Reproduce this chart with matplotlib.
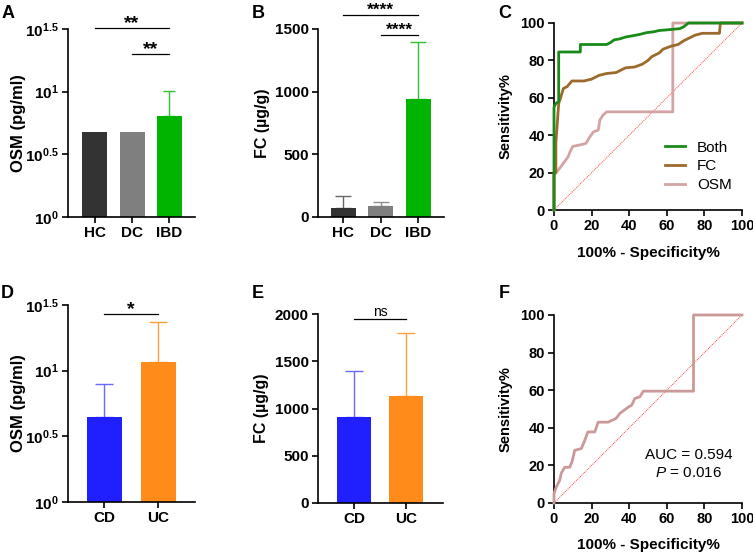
import numpy as np
import matplotlib
matplotlib.use("Agg")
import matplotlib.pyplot as plt

# ---- data ----
groups_abc = ["HC", "DC", "IBD"]
osm_means = [4.73, 4.73, 6.4]
osm_upper = [4.73, 4.73, 10.1]        # mean + SD (no bar drawn when equal)
fc_means = [70, 85, 940]
fc_upper = [170, 123, 1396]

groups_de = ["CD", "UC"]
osm_sub_means = [4.43, 11.7]
osm_sub_upper = [7.94, 23.3]
fc_sub_means = [915, 1135]
fc_sub_upper = [1395, 1800]

# ROC curves, panel C
both_x = [0, 0, 1, 2.5, 2.5, 14, 14, 28, 30, 32, 35, 38, 42, 46, 49, 53, 56, 62, 67, 69, 71.5, 100]
both_y = [0, 55, 57, 58, 84.5, 84.5, 88.5, 88.5, 89.5, 91, 91.5, 92.5, 93.2, 94, 94.8, 95.3, 96, 96.5, 97, 98, 100, 100]
fc_x = [0, 0, 1, 1, 2.5, 3.5, 5, 7, 9.5, 16, 20, 24, 28, 33, 35, 38, 43, 47, 50, 52, 56, 58, 62, 66, 69, 72, 75, 79, 88, 88.5, 100]
fc_y = [0, 20, 20, 36, 57, 60, 65, 66, 69, 69, 70, 72, 73, 73.5, 74.5, 76, 76.5, 78, 80, 82, 84, 86, 87.5, 88.5, 90.5, 92, 93.5, 94.5, 94.5, 100, 100]
osm_x = [0, 0, 2, 5, 7.5, 8.5, 10, 14.6, 17, 19, 21, 23.5, 24.4, 26, 28, 63.2, 63.2, 100]
osm_y = [0, 18.5, 21, 25, 28.5, 31, 34, 35, 35.6, 39, 41.8, 42.7, 48, 50.7, 52.5, 52.5, 100, 100]

# ROC curve, panel F (CD vs UC by OSM)
f_x = [0, 0, 1.2, 3, 3.9, 5.7, 8.4, 9.8, 11, 14.6, 16.4, 18, 21.7, 23.5, 28.8, 33, 35, 39.5, 41.3, 43, 45.7, 47.5, 74.2, 74.2, 100]
f_y = [0, 5, 8.5, 12, 16, 19, 19, 22.7, 28, 29, 33.4, 37.8, 37.8, 43, 43, 45, 47.6, 51, 52, 55.6, 56.5, 59.5, 59.5, 100, 100]
roc_ticks = [0, 20, 40, 60, 80, 100]

plt.rcParams.update({
    "font.family": ["Liberation Sans", "DejaVu Sans"],
    "font.weight": "bold",
    "axes.labelweight": "bold",
    "font.size": 11,
    "axes.linewidth": 1.2,
    "xtick.major.width": 1.2,
    "ytick.major.width": 1.2,
    "xtick.major.size": 4.5,
    "ytick.major.size": 4.5,
    "mathtext.fontset": "custom",
    "mathtext.rm": "Liberation Sans:bold",
    "mathtext.bf": "Liberation Sans:bold",
    "mathtext.it": "Liberation Sans:style=italic:weight=normal",
})

W, H = 753, 553
fig = plt.figure(figsize=(W / 100, H / 100), dpi=100)


def axes_px(left, right, top, bottom):
    return fig.add_axes([left / W, 1 - bottom / H, (right - left) / W, (bottom - top) / H])


def style(ax, size=11):
    for s in ["top", "right"]:
        ax.spines[s].set_visible(False)
    ax.tick_params(labelsize=size, pad=2)


def bars(ax, groups, means, upper, colors, ecolors, width, capsize, bottom=0):
    x = np.arange(len(groups))
    ax.bar(x, np.array(means) - bottom, bottom=bottom, width=width, color=colors, zorder=2)
    for xi, m, u, ec in zip(x, means, upper, ecolors):
        if u > m:
            ax.errorbar(xi, m, yerr=[[0], [u - m]], fmt="none", ecolor=ec,
                        elinewidth=1.0, capsize=capsize, capthick=1.0, zorder=1)
    ax.set_xticks(x)
    ax.set_xticklabels(groups, fontsize=11)


def sig(ax, x0, x1, y, label, weight="bold", size=14, va="baseline"):
    # asterisks sit high in the em box, so anchoring the baseline on the bar
    # leaves the same gap as in the original figure
    ax.plot([x0, x1], [y, y], color="black", lw=0.9, clip_on=False)
    ax.text((x0 + x1) / 2, y, label, ha="center", va=va, fontsize=size,
            fontweight=weight, clip_on=False)


log_ticks = [1, 10 ** 0.5, 10, 10 ** 1.5]
log_labels = [r"$10^{0}$", r"$10^{0.5}$", r"$10^{1}$", r"$10^{1.5}$"]

# ---- A ----
axA = axes_px(68, 195, 29, 217)
style(axA)
axA.set_yscale("log")
bars(axA, groups_abc, osm_means, osm_upper, ["#333333", "#7f7f7f", "#00b400"],
     ["#333333", "#7f7f7f", "#30c030"], 0.67, 4.5, bottom=1)
axA.set_ylim(1, 10 ** 1.5)
axA.set_xlim(-0.72, 2.69)
axA.set_yticks(log_ticks)
axA.set_yticklabels(log_labels, fontsize=11)
axA.minorticks_off()
axA.set_ylabel("OSM (pg/ml)", fontsize=12, va="center")
axA.yaxis.set_label_coords(-0.39, 0.5)
sig(axA, 0, 2, 10 ** 1.505, "**")
sig(axA, 1, 2, 10 ** 1.30, "**")

# ---- B ----
axB = axes_px(318, 444, 29, 217)
style(axB)
bars(axB, groups_abc, fc_means, fc_upper, ["#333333", "#7f7f7f", "#00b400"],
     ["#666666", "#8f8f8f", "#30c030"], 0.67, 6)
axB.set_ylim(0, 1500)
axB.set_xlim(-0.68, 2.69)
axB.set_yticks([0, 500, 1000, 1500])
axB.set_ylabel("FC (\u00b5g/g)", fontsize=11.5, va="center")
axB.yaxis.set_label_coords(-0.44, 0.5)
sig(axB, 0, 2, 1615, "****", size=12.5)
sig(axB, 1, 2, 1452, "****", size=12.5)

# ---- C ----
axC = axes_px(554, 742, 23, 210)
style(axC, 10.5)
axC.plot([0, 100], [0, 100], color="#ff4040", lw=0.7, ls=(0, (1, 1)), zorder=2)
axC.plot(osm_x, osm_y, color="#d4a3a3", lw=2, label="OSM", clip_on=False, zorder=3)
axC.plot(fc_x, fc_y, color="#9c6a2c", lw=2, label="FC", clip_on=False, zorder=4)
axC.plot(both_x, both_y, color="#1a8a1a", lw=2, label="Both", clip_on=False, zorder=5)
axC.set_xlim(0, 100)
axC.set_ylim(0, 100)
axC.set_xticks(roc_ticks)
axC.set_yticks(roc_ticks)
axC.set_xlabel("100% - Specificity%", fontsize=11, va="center")
axC.xaxis.set_label_coords(0.5, -0.23)
axC.set_ylabel("Sensitivity%", fontsize=10.5, va="center")
axC.yaxis.set_label_coords(-0.26, 0.5)
h, l = axC.get_legend_handles_labels()
axC.legend(h[::-1], l[::-1], loc="upper left", bbox_to_anchor=(0.59, 0.37),
           frameon=False, borderpad=0, borderaxespad=0, handlelength=1.3,
           handletextpad=0.8, labelspacing=0.3, prop={"weight": "normal", "size": 11})

# ---- D ----
axD = axes_px(68, 195, 305, 502)
style(axD)
axD.set_yscale("log")
bars(axD, groups_de, osm_sub_means, osm_sub_upper, ["#2020ff", "#ff8c1a"],
     ["#6a6aff", "#ffa040"], 0.65, 6.5, bottom=1)
axD.set_ylim(1, 10 ** 1.5)
axD.set_xlim(-0.67, 1.68)
axD.set_yticks(log_ticks)
axD.set_yticklabels(log_labels, fontsize=11)
axD.minorticks_off()
axD.set_ylabel("OSM (pg/ml)", fontsize=12, va="center")
axD.yaxis.set_label_coords(-0.39, 0.5)
sig(axD, 0, 1, 10 ** 1.43, "*")

# ---- E ----
axE = axes_px(318, 443, 314, 503)
style(axE)
bars(axE, groups_de, fc_sub_means, fc_sub_upper, ["#2020ff", "#ff8c1a"],
     ["#6a6aff", "#ffa040"], 0.65, 6.5)
axE.set_ylim(0, 2000)
axE.set_xlim(-0.69, 1.7)
axE.set_yticks([0, 500, 1000, 1500, 2000])
axE.set_ylabel("FC (\u00b5g/g)", fontsize=11.5, va="center")
axE.yaxis.set_label_coords(-0.45, 0.5)
sig(axE, 0, 1, 1943, "ns", weight="normal", size=10, va="bottom")

# ---- F ----
axF = axes_px(554, 742, 315, 503)
style(axF, 10.5)
axF.plot([0, 100], [0, 100], color="#ff4040", lw=0.7, ls=(0, (1, 1)), zorder=2)
axF.plot(f_x, f_y, color="#cc9999", lw=2, clip_on=False, zorder=3)
axF.set_xlim(0, 100)
axF.set_ylim(0, 100)
axF.set_xticks(roc_ticks)
axF.set_yticks(roc_ticks)
axF.set_xlabel("100% - Specificity%", fontsize=11, va="center")
axF.xaxis.set_label_coords(0.5, -0.225)
axF.set_ylabel("Sensitivity%", fontsize=10.5, va="center")
axF.yaxis.set_label_coords(-0.255, 0.5)
axF.text(71.5, 25.5, "AUC = 0.594", ha="center", va="center", fontsize=11, fontweight="normal")
axF.text(71.5, 15.8, r"$\mathit{P}$ = 0.016", ha="center", va="center", fontsize=11, fontweight="normal")

# panel letters
for letter, px, py in [("A", 8, 14), ("B", 258, 13), ("C", 505, 14),
                       ("D", 7, 294), ("E", 258, 294), ("F", 504, 294)]:
    fig.text(px / W, 1 - py / H, letter, ha="center", va="center", fontsize=13, fontweight="bold")

fig.savefig("out.png", dpi=100)
